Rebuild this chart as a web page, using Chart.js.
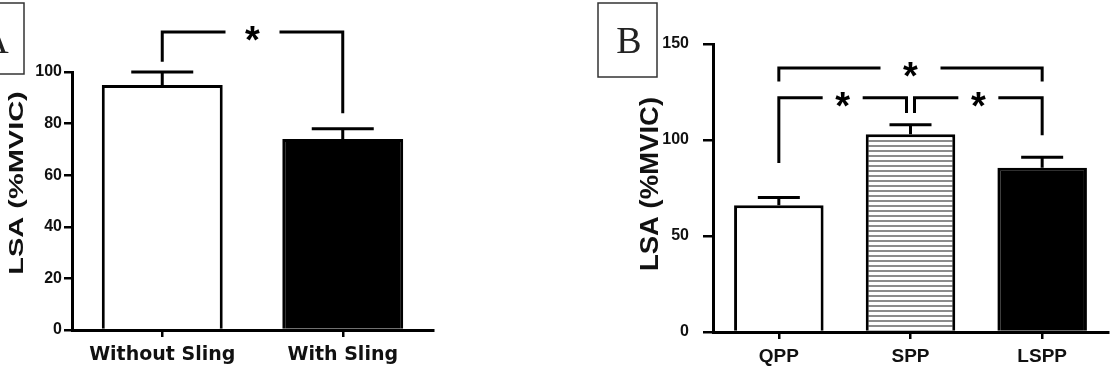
<!DOCTYPE html>
<html>
<head>
<meta charset="utf-8">
<script src="https://cdn.jsdelivr.net/npm/chart.js@4.4.1/dist/chart.umd.min.js"></script>
<style>
  html, body { margin: 0; padding: 0; background: #fff; }
  body { width: 1115px; height: 371px; position: relative; overflow: hidden; }
  canvas { position: absolute; top: 0; }
  #chartA { left: 0; }
  #chartB { left: 590px; }
</style>
</head>
<body>
<canvas id="chartA" width="450" height="371"></canvas>
<canvas id="chartB" width="525" height="371"></canvas>
<script>
// ---- Panel A ----
const A_LABELS = ['Without Sling', 'With Sling'];
const A_MEANS = [95, 74];
const A_SEM = [5, 4];
const A_TICKS = [0, 20, 40, 60, 80, 100];
// brackets: from, to, bar level, left leg end, right leg end (all in %MVIC)
const A_BRACKETS = [
  { from: 0, to: 1, level: 115.5, legFrom: 104, legTo: 84 },
];

// ---- Panel B ----
const B_LABELS = ['QPP', 'SPP', 'LSPP'];
const B_MEANS = [66, 103, 85.5];
const B_SEM = [4, 5, 5.5];
const B_TICKS = [0, 50, 100, 150];
const B_BRACKETS = [
  { from: 0, to: 2, level: 137.5, legFrom: 130.5, legTo: 130.5 },
  { from: 0, to: 1, level: 122, legFrom: 88, legTo: 114 },
  { from: 1, to: 2, level: 122, legFrom: 114, legTo: 102.5 },
];

const Y_TITLE = 'LSA (%MVIC)';
const ARIAL = 'Arial, "Liberation Sans", sans-serif';

// ---------------------------------------------------------
// hatch fill for the SPP bar
// ---------------------------------------------------------
function stripes(target) {
  const c = document.createElement('canvas');
  c.width = 8; c.height = 5;
  const g = c.getContext('2d');
  g.fillStyle = '#fff'; g.fillRect(0, 0, 8, 5);
  g.fillStyle = '#8c8c8c'; g.fillRect(0, 0, 8, 2);
  return target.getContext('2d').createPattern(c, 'repeat');
}

// ---------------------------------------------------------
// error bars, significance brackets, panel letter, y title
// ---------------------------------------------------------
function annotations(o) {
  return {
    id: 'annot',
    afterDatasetsDraw(chart) {
      const ctx = chart.ctx;
      const xs = chart.scales.x, ys = chart.scales.y;
      ctx.save();
      ctx.strokeStyle = '#000';
      ctx.lineWidth = 3;
      ctx.lineJoin = 'miter';

      // upper error bars
      o.means.forEach((m, i) => {
        const cx = xs.getPixelForValue(i);
        const top = ys.getPixelForValue(m);
        const cap = ys.getPixelForValue(m + o.sem[i]);
        ctx.beginPath();
        ctx.moveTo(cx, top); ctx.lineTo(cx, cap);
        ctx.moveTo(cx - o.capHalf, cap); ctx.lineTo(cx + o.capHalf, cap);
        ctx.stroke();
      });

      // brackets with a star in the gap
      o.brackets.forEach((b, k) => {
        const inset = o.insets[k] || [0, 0];
        const x0 = xs.getPixelForValue(b.from) + inset[0];
        const x1 = xs.getPixelForValue(b.to) - inset[1];
        const yl = ys.getPixelForValue(b.level);
        const mid = (x0 + x1) / 2;
        const gap = o.gaps[k];
        ctx.beginPath();
        ctx.moveTo(x0, ys.getPixelForValue(b.legFrom));
        ctx.lineTo(x0, yl);
        ctx.lineTo(mid - gap, yl);
        ctx.moveTo(mid + gap, yl);
        ctx.lineTo(x1, yl);
        ctx.lineTo(x1, ys.getPixelForValue(b.legTo));
        ctx.stroke();
        ctx.fillStyle = '#000';
        ctx.font = 'bold 38px ' + ARIAL;
        ctx.textAlign = 'center';
        ctx.textBaseline = 'alphabetic';
        ctx.fillText('*', mid, yl + 21);
      });

      // panel letter box
      ctx.lineWidth = 1.5;
      ctx.strokeStyle = '#333';
      ctx.strokeRect(o.box[0], o.box[1], o.box[2], o.box[3]);
      ctx.fillStyle = '#222';
      ctx.font = '38px "Liberation Serif", "Times New Roman", serif';
      ctx.textAlign = 'center';
      ctx.fillText(o.letter, o.letterX, 53);

      // rotated y-axis title
      ctx.translate(o.titleX, o.titleY);
      ctx.rotate(-Math.PI / 2);
      ctx.scale(o.titleStretch, 1);
      ctx.fillStyle = '#111';
      ctx.font = 'bold ' + o.titleSize + 'px ' + ARIAL;
      ctx.textAlign = 'center';
      ctx.textBaseline = 'middle';
      ctx.fillText(Y_TITLE, 0, 0);
      ctx.restore();
    },
  };
}

function makeChart(canvas, labels, means, fills, ticks, layout, xFont, annot) {
  return new Chart(canvas.getContext('2d'), {
    type: 'bar',
    data: {
      labels,
      datasets: [{
        data: means,
        backgroundColor: fills,
        borderColor: '#000',
        borderWidth: 3,
        borderSkipped: 'bottom',
        categoryPercentage: 1,
        barPercentage: layout.barPct,
      }],
    },
    options: {
      responsive: false,
      animation: false,
      layout: { padding: { left: 0, top: layout.top, right: layout.right, bottom: 0 } },
      plugins: { legend: { display: false }, tooltip: { enabled: false } },
      scales: {
        x: {
          afterFit: (s) => { s.height = layout.xHeight; },
          grid: { offset: false, drawOnChartArea: false, color: '#000', lineWidth: 2.5, tickLength: 7 },
          border: { color: '#000', width: 3 },
          ticks: { color: '#111', font: xFont, padding: layout.xPad, maxRotation: 0, autoSkip: false },
        },
        y: {
          min: 0,
          max: ticks[ticks.length - 1],
          afterBuildTicks: (s) => { s.ticks = ticks.map(v => ({ value: v })); },
          afterFit: (s) => { s.width = layout.yWidth; },
          grid: { drawOnChartArea: false, color: '#000', lineWidth: 2.5, tickLength: layout.yTick },
          border: { color: '#000', width: 3 },
          ticks: { color: '#111', font: { family: ARIAL, size: 16, weight: 'bold' }, padding: layout.yPad },
        },
      },
    },
    plugins: [annotations(annot)],
  });
}

const canvasA = document.getElementById('chartA');
const canvasB = document.getElementById('chartB');

makeChart(canvasA, A_LABELS, A_MEANS, ['#fff', '#000'], A_TICKS,
  { top: 72, right: 17, xHeight: 41, yWidth: 72, barPct: 0.67, xPad: 7, yTick: 8, yPad: 2 },
  { family: '"DejaVu Sans", Verdana, sans-serif', size: 19, weight: 'bold' },
  {
    means: A_MEANS, sem: A_SEM, capHalf: 31,
    brackets: A_BRACKETS, insets: [[0, 0]], gaps: [27],
    box: [-25, 3, 49, 71], letter: 'A', letterX: -5,
    titleX: 17, titleY: 183, titleSize: 21, titleStretch: 1.38,
  });

makeChart(canvasB, B_LABELS, B_MEANS, ['#fff', stripes(canvasB), '#000'], B_TICKS,
  { top: 44, right: 7, xHeight: 39, yWidth: 123, barPct: 0.68, xPad: 6, yTick: 10, yPad: 14 },
  { family: ARIAL, size: 19, weight: 'bold' },
  {
    means: B_MEANS, sem: B_SEM, capHalf: 21,
    brackets: B_BRACKETS, insets: [[0, 0], [0, 4], [4, 0]], gaps: [30, 20, 20],
    box: [8, 3, 59, 74], letter: 'B', letterX: 39,
    titleX: 61, titleY: 184, titleSize: 25, titleStretch: 1.1,
  });
</script>
</body>
</html>
